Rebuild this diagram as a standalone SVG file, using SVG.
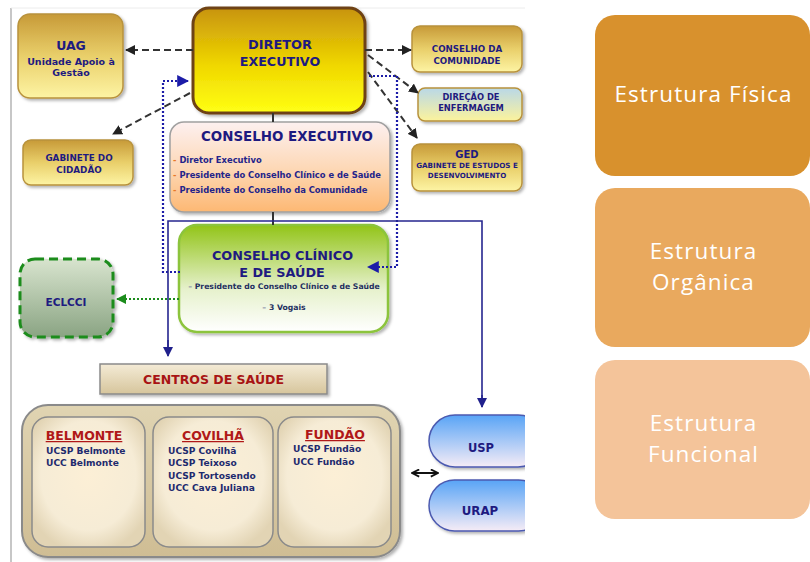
<svg xmlns="http://www.w3.org/2000/svg" width="810" height="562" viewBox="0 0 810 562">
<defs>
  <linearGradient id="gGold" x1="0" y1="0" x2="0" y2="1"><stop offset="0" stop-color="#c79a38"/><stop offset="0.5" stop-color="#e9cf6a"/><stop offset="1" stop-color="#fdf4a4"/></linearGradient>
  <linearGradient id="gDir" x1="0" y1="0" x2="0" y2="1"><stop offset="0" stop-color="#c8940e"/><stop offset="0.55" stop-color="#f0d800"/><stop offset="1" stop-color="#ffff14"/></linearGradient>
  <linearGradient id="gEnf" x1="0" y1="0" x2="0" y2="1"><stop offset="0" stop-color="#b9d8e8"/><stop offset="1" stop-color="#fcf39c"/></linearGradient>
  <linearGradient id="gCE" x1="0" y1="0" x2="0" y2="1"><stop offset="0" stop-color="#fdf0f0"/><stop offset="0.5" stop-color="#fdd9b8"/><stop offset="1" stop-color="#fdb873"/></linearGradient>
  <linearGradient id="gCC" x1="0" y1="0" x2="0" y2="1"><stop offset="0" stop-color="#92c418"/><stop offset="0.6" stop-color="#e6f1cc"/><stop offset="1" stop-color="#ffffff"/></linearGradient>
  <linearGradient id="gEcl" x1="0" y1="0" x2="0" y2="1"><stop offset="0" stop-color="#d8e4ce"/><stop offset="1" stop-color="#8aa483"/></linearGradient>
  <linearGradient id="gCen" x1="0" y1="0" x2="0" y2="1"><stop offset="0" stop-color="#f4ebd6"/><stop offset="1" stop-color="#d6c59c"/></linearGradient>
  <linearGradient id="gCont" x1="0" y1="0" x2="0" y2="1"><stop offset="0" stop-color="#e0d4b2"/><stop offset="1" stop-color="#cfbd94"/></linearGradient>
  <radialGradient id="gIn" cx="0.5" cy="0.45" r="0.6"><stop offset="0" stop-color="#fcefd6"/><stop offset="0.7" stop-color="#f6ecd6"/><stop offset="1" stop-color="#e2d4b4"/></radialGradient>
  <linearGradient id="gPill" x1="0" y1="0" x2="0" y2="1"><stop offset="0" stop-color="#58a4f6"/><stop offset="1" stop-color="#f6ecf6"/></linearGradient>
  <filter id="sh" x="-10%" y="-10%" width="130%" height="130%"><feDropShadow dx="2" dy="2" stdDeviation="1.5" flood-color="#000" flood-opacity="0.3"/></filter>
  <clipPath id="clipL"><rect x="0" y="0" width="525" height="562"/></clipPath>
  <marker id="aBlk" viewBox="0 0 10 10" refX="9" refY="5" markerWidth="10" markerHeight="10" markerUnits="userSpaceOnUse" orient="auto"><path d="M0,0 L10,5 L0,10 z" fill="#222"/></marker>
  <marker id="aBlu" viewBox="0 0 10 10" refX="9" refY="5" markerWidth="12" markerHeight="12" markerUnits="userSpaceOnUse" orient="auto"><path d="M0,0 L10,5 L0,10 z" fill="#1c1ca8"/></marker>
  <marker id="aNav" viewBox="0 0 10 10" refX="9" refY="5" markerWidth="10" markerHeight="10" markerUnits="userSpaceOnUse" orient="auto"><path d="M0,0 L10,5 L0,10 z" fill="#20208c"/></marker>
  <marker id="aGrn" viewBox="0 0 10 10" refX="9" refY="5" markerWidth="10" markerHeight="10" markerUnits="userSpaceOnUse" orient="auto"><path d="M0,0 L10,5 L0,10 z" fill="#1c8c1c"/></marker>
  <marker id="aOpen" viewBox="0 0 10 10" refX="9" refY="5" markerWidth="9" markerHeight="9" markerUnits="userSpaceOnUse" orient="auto-start-reverse"><path d="M1,1 L9,5 L1,9" fill="none" stroke="#111" stroke-width="2"/></marker>
</defs>
<style>
  .b{font-family:"DejaVu Sans","Liberation Sans",sans-serif;font-weight:bold}
  .nv{fill:#1e1a80}
  .c{text-anchor:middle}
  .gold{fill:url(#gGold);stroke:#b8923c;stroke-width:1.5}
  .dash{fill:none;stroke:#333;stroke-width:2;stroke-dasharray:7 4}
  .dot{fill:none;stroke:#1c1ca8;stroke-width:2.2;stroke-dasharray:2 2}
  .sol{fill:none;stroke:#26268f;stroke-width:1.6}
  .unit{font-size:9.1px;fill:#1e2a6e}
  .tit{font-size:12.5px;fill:#b01818;text-decoration:underline;text-anchor:middle}
  .inner{fill:url(#gIn);stroke:#8a8a8a;stroke-width:1.5}
  .pill{fill:url(#gPill);stroke:#4c5ab0;stroke-width:1.5}
  .r{font-family:"Open Sans","Noto Sans",sans-serif;font-size:22.5px;fill:#fff;text-anchor:middle;letter-spacing:1.1px}
</style>
<rect width="810" height="562" fill="#fff"/>
<line x1="11" y1="8" x2="11" y2="562" stroke="#b4b4b4" stroke-width="1.5"/>
<line x1="11" y1="8" x2="525" y2="8" stroke="#ececec" stroke-width="1"/>

<g id="uag">
  <rect x="18" y="14" width="105" height="84" rx="12" class="gold" filter="url(#sh)"/>
  <text class="b nv c" x="71" y="50" font-size="12.5">UAG</text>
  <text class="b nv c" x="71" y="65" font-size="9.5">Unidade Apoio à</text>
  <text class="b nv c" x="71" y="76" font-size="9.5">Gestão</text>
</g>
<g id="gabinete-cidadao">
  <rect x="23" y="140" width="110" height="45" rx="8" class="gold" filter="url(#sh)"/>
  <text class="b nv c" x="79" y="161" font-size="8.8">GABINETE DO</text>
  <text class="b nv c" x="79" y="172.5" font-size="8.8">CIDADÃO</text>
</g>
<g id="diretor">
  <rect x="193" y="8" width="172" height="105" rx="16" fill="url(#gDir)" stroke="#6e4212" stroke-width="3" filter="url(#sh)"/>
  <text class="b nv c" x="280" y="49" font-size="12.9">DIRETOR</text>
  <text class="b nv c" x="280" y="66" font-size="12.7">EXECUTIVO</text>
</g>
<g id="conselho-comunidade">
  <rect x="412" y="26" width="110" height="46" rx="8" class="gold" filter="url(#sh)"/>
  <text class="b nv c" x="467" y="52" font-size="8.7">CONSELHO DA</text>
  <text class="b nv c" x="467" y="63.5" font-size="8.7">COMUNIDADE</text>
</g>
<g id="direcao-enfermagem">
  <rect x="418" y="88" width="104" height="33" rx="7" fill="url(#gEnf)" stroke="#b8923c" stroke-width="1.5" filter="url(#sh)"/>
  <text class="b nv c" x="471" y="99.5" font-size="8.3">DIREÇÃO DE</text>
  <text class="b nv c" x="471" y="111" font-size="8.3">ENFERMAGEM</text>
</g>
<g id="ged">
  <rect x="412" y="144" width="110" height="47" rx="8" class="gold" filter="url(#sh)"/>
  <text class="b nv c" x="467" y="157.5" font-size="10">GED</text>
  <text class="b nv c" x="467" y="167.5" font-size="7.2">GABINETE DE ESTUDOS E</text>
  <text class="b nv c" x="467" y="177.5" font-size="7.1">DESENVOLVIMENTO</text>
</g>
<g id="conselho-executivo">
  <rect x="170" y="122" width="220" height="90" rx="14" fill="url(#gCE)" stroke="#a0a0a0" stroke-width="1.5" filter="url(#sh)"/>
  <text class="b nv c" x="287" y="141" font-size="13.4">CONSELHO EXECUTIVO</text>
  <text class="b" x="173" y="163" font-size="8.4" fill="#24248a"><tspan fill="#e8782a">-</tspan> Diretor Executivo</text>
  <text class="b" x="173" y="178" font-size="8.4" fill="#24248a"><tspan fill="#e8782a">-</tspan> Presidente do Conselho Clínico e de Saúde</text>
  <text class="b" x="173" y="192.5" font-size="8.4" fill="#24248a"><tspan fill="#e8782a">-</tspan> Presidente do Conselho da Comunidade</text>
</g>
<g id="conselho-clinico">
  <rect x="179" y="225" width="209" height="107" rx="18" fill="url(#gCC)" stroke="#8cc43c" stroke-width="2.5" filter="url(#sh)"/>
  <text class="b nv c" x="282.5" y="260" font-size="12.8">CONSELHO CLÍNICO</text>
  <text class="b nv c" x="282" y="277" font-size="12.8">E DE SAÚDE</text>
  <text class="b c" x="284" y="289" font-size="7.7" fill="#243060"><tspan fill="#8a90a8">–</tspan> Presidente do Conselho Clínico e de Saúde</text>
  <text class="b c" x="284" y="310" font-size="7.7" fill="#243060"><tspan fill="#8a90a8">–</tspan> 3 Vogais</text>
</g>
<g id="eclcci">
  <rect x="20" y="259" width="93" height="78" rx="15" fill="url(#gEcl)" stroke="#1c8c1c" stroke-width="3" stroke-dasharray="9 5" filter="url(#sh)"/>
  <text class="b nv c" x="66" y="306" font-size="10.5">ECLCCI</text>
</g>
<g id="centros-saude">
  <rect x="100" y="364" width="227" height="30" fill="url(#gCen)" stroke="#8a8a8a" stroke-width="1.5" filter="url(#sh)"/>
  <text class="b c" x="213.5" y="384" font-size="12.5" fill="#a81414">CENTROS DE SAÚDE</text>
</g>
<g id="agrupamento">
  <rect x="22" y="405" width="378" height="152" rx="26" fill="url(#gCont)" stroke="#8a8a8a" stroke-width="2" filter="url(#sh)"/>
</g>
<g id="belmonte">
  <rect x="32" y="417" width="113" height="130" rx="16" class="inner"/>
  <text class="b tit" x="84" y="440">BELMONTE</text>
  <text class="b unit" x="46" y="454">UCSP Belmonte</text>
  <text class="b unit" x="46" y="466">UCC Belmonte</text>
</g>
<g id="covilha">
  <rect x="153" y="417" width="120" height="130" rx="16" class="inner"/>
  <text class="b tit" x="213" y="440">COVILHÃ</text>
  <text class="b unit" x="168" y="454">UCSP Covilhã</text>
  <text class="b unit" x="168" y="466">UCSP Teixoso</text>
  <text class="b unit" x="168" y="478.5">UCSP Tortosendo</text>
  <text class="b unit" x="168" y="491">UCC Cava Juliana</text>
</g>
<g id="fundao">
  <rect x="278" y="417" width="113" height="130" rx="16" class="inner"/>
  <text class="b tit" x="335" y="439">FUNDÃO</text>
  <text class="b unit" x="293" y="452">UCSP Fundão</text>
  <text class="b unit" x="293" y="465">UCC Fundão</text>
</g>
<g id="usp" clip-path="url(#clipL)">
  <rect x="429" y="415" width="115" height="52" rx="26" class="pill" filter="url(#sh)"/>
  <text class="b nv c" x="481" y="452" font-size="11.5">USP</text>
</g>
<g id="urap" clip-path="url(#clipL)">
  <rect x="429" y="480" width="115" height="51" rx="25.5" class="pill" filter="url(#sh)"/>
  <text class="b nv c" x="480" y="515" font-size="11.8">URAP</text>
</g>

<g id="connectors">
  <line x1="273" y1="113" x2="273" y2="122" stroke="#333" stroke-width="2"/>
  <line x1="273" y1="212" x2="273" y2="225" stroke="#333" stroke-width="2"/>
  <line x1="193" y1="50" x2="126" y2="50" class="dash" marker-end="url(#aBlk)"/>
  <line x1="190" y1="93" x2="113" y2="134" class="dash" marker-end="url(#aBlk)"/>
  <line x1="365" y1="50" x2="411" y2="50" class="dash" marker-end="url(#aBlk)"/>
  <line x1="368" y1="55" x2="418" y2="93" class="dash" marker-end="url(#aBlk)"/>
  <line x1="368" y1="72" x2="417" y2="138" class="dash" marker-end="url(#aBlk)"/>
  <polyline points="369,76 397,76 397,267 368,267" class="dot" marker-end="url(#aBlu)"/>
  <polyline points="180,272 163,272 163,81 188,81" class="dot" marker-end="url(#aBlu)"/>
  <line x1="179" y1="299" x2="117" y2="299" fill="none" stroke="#1c8c1c" stroke-width="2" stroke-dasharray="2 2" marker-end="url(#aGrn)"/>
  <polyline points="168,355 168,221 482,221 482,407" class="sol"/>
  <line x1="168" y1="340" x2="168" y2="356" class="sol" marker-end="url(#aNav)"/>
  <line x1="482" y1="395" x2="482" y2="407" class="sol" marker-end="url(#aNav)"/>
  <line x1="412" y1="473" x2="438" y2="473" stroke="#111" stroke-width="2" marker-start="url(#aOpen)" marker-end="url(#aOpen)"/>
</g>

<g id="estrutura-fisica">
  <rect x="595" y="15" width="215" height="161" rx="20" fill="#d8912d"/>
  <text class="r" x="703.5" y="102">Estrutura Física</text>
</g>
<g id="estrutura-organica">
  <rect x="595" y="188" width="215" height="159" rx="20" fill="#e9a95e"/>
  <text class="r" x="703.5" y="259">Estrutura</text>
  <text class="r" x="703.5" y="290">Orgânica</text>
</g>
<g id="estrutura-funcional">
  <rect x="595" y="360" width="215" height="159" rx="20" fill="#f4c49a"/>
  <text class="r" x="703.5" y="431">Estrutura</text>
  <text class="r" x="703.5" y="462">Funcional</text>
</g>
</svg>
